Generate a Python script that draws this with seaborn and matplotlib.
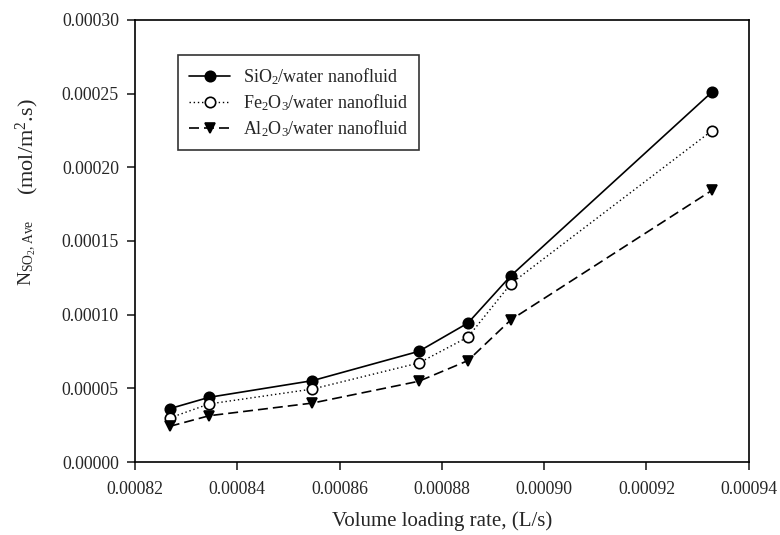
import matplotlib
matplotlib.use("Agg")
import matplotlib.pyplot as plt
import seaborn as sns
import pandas as pd
from matplotlib.ticker import FormatStrFormatter

loading_rate = [0.0008268, 0.0008345, 0.0008547, 0.0008755, 0.0008851, 0.0008935, 0.0009328]
sio2 = [3.62e-5, 4.39e-5, 5.52e-5, 7.51e-5, 9.43e-5, 1.264e-4, 2.51e-4]
fe2o3 = [2.99e-5, 3.94e-5, 4.95e-5, 6.72e-5, 8.48e-5, 1.21e-4, 2.248e-4]
al2o3 = [2.42e-5, 3.14e-5, 4.00e-5, 5.48e-5, 6.88e-5, 9.65e-5, 1.843e-4]
labels = [r"SiO$_2$/water nanofluid", r"Fe$_2$O$_3$/water nanofluid", r"Al$_2$O$_3$/water nanofluid"]
xticks = [0.00082, 0.00084, 0.00086, 0.00088, 0.00090, 0.00092, 0.00094]
yticks = [0, 0.00005, 0.0001, 0.00015, 0.0002, 0.00025, 0.0003]

sns.set_style("ticks")
plt.rcParams["font.family"] = ["Liberation Serif", "DejaVu Serif"]
plt.rcParams["mathtext.fontset"] = "custom"
plt.rcParams["mathtext.rm"] = "Liberation Serif"
plt.rcParams["mathtext.it"] = "Liberation Serif:italic"

fig = plt.figure(figsize=(7.8, 5.35), dpi=100)
ax = fig.add_axes([0.173, 0.1364, 0.787, 0.8266])

styles = [
    dict(linestyle="-", marker="o", markerfacecolor="black", lw=1.2),
    dict(linestyle=(0, (1, 2)), marker="o", markerfacecolor="white", lw=1.0),
    dict(linestyle=(0, (6, 3)), marker="v", markerfacecolor="black", lw=1.2),
]
for vals, lab, st in zip([sio2, fe2o3, al2o3], labels, styles):
    df = pd.DataFrame({"x": loading_rate, "y": vals})
    sns.lineplot(data=df, x="x", y="y", ax=ax, color="black", label=lab,
                 markersize=7.5, markeredgecolor="black", markeredgewidth=1.2, **st)

ax.set_xlim(xticks[0], xticks[-1])
ax.set_ylim(yticks[0], yticks[-1])
ax.set_xticks(xticks)
ax.set_yticks(yticks)
ax.xaxis.set_major_formatter(FormatStrFormatter("%.5f"))
ax.yaxis.set_major_formatter(FormatStrFormatter("%.5f"))
ax.tick_params(axis="both", labelsize=12.8, length=5.5, width=1.2, direction="out")
ax.tick_params(axis="x", pad=8)
ax.tick_params(axis="y", pad=6)
ax.tick_params(top=False, right=False)
for s in ax.spines.values():
    s.set_linewidth(1.2)
    s.set_color("black")

ax.set_xlabel("Volume loading rate, (L/s)", fontsize=15)
ax.xaxis.set_label_coords(0.5, -0.112)
ax.set_ylabel("")
fig.text(0.035, 1 - 147 / 535, r"(mol/m$^2$.s)", rotation=90, ha="center", va="center", fontsize=16)
fig.text(0.035, 1 - 253 / 535, r"N$_{\mathrm{SO_2,Ave}}$", rotation=90, ha="center", va="center", fontsize=14)

leg = ax.legend(loc="upper left", bbox_to_anchor=(0.070, 0.92), frameon=True, fancybox=False,
                edgecolor="black", fontsize=13, handlelength=2.3, borderpad=0.6,
                labelspacing=0.3, handletextpad=0.7, borderaxespad=0, numpoints=1)
leg.get_frame().set_linewidth(1.2)

fig.savefig("out.png", dpi=100)
